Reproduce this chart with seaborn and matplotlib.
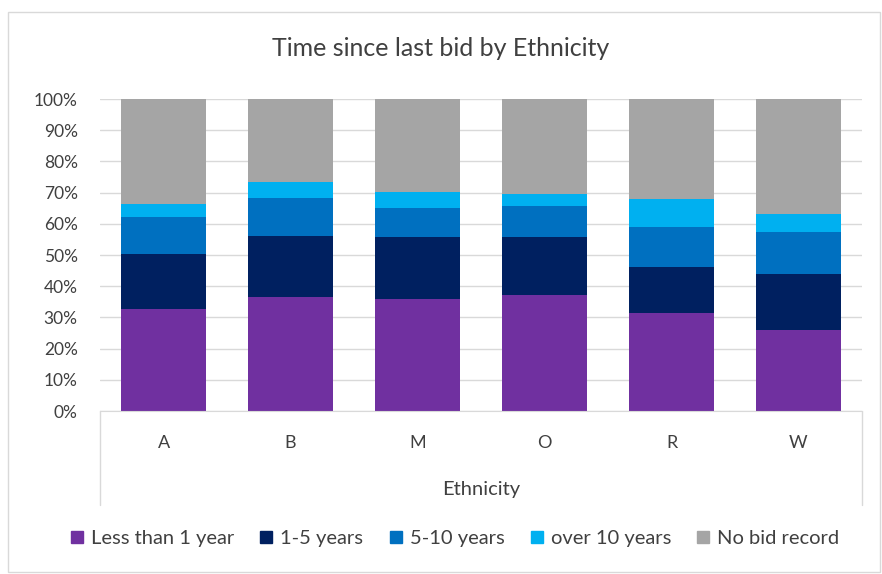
import matplotlib
matplotlib.use("Agg")
import matplotlib.pyplot as plt
from matplotlib.lines import Line2D
from matplotlib.patches import Rectangle
import numpy as np
import pandas as pd
import seaborn as sns

categories = ["A", "B", "M", "O", "R", "W"]
series_names = ["Less than 1 year", "1-5 years", "5-10 years", "over 10 years", "No bid record"]
less_than_1 = [32.6, 36.4, 35.8, 37.1, 31.4, 26.0]
one_to_five = [17.8, 19.8, 19.9, 18.6, 14.6, 17.9]
five_to_ten = [11.7, 12.1, 9.4, 10.1, 12.9, 13.6]
over_ten = [4.4, 5.2, 5.2, 3.9, 8.9, 5.7]
no_bid = [33.5, 26.5, 29.7, 30.3, 32.2, 36.8]
colors = ["#7030A0", "#002060", "#0070C0", "#00B0F0", "#A5A5A5"]
yticks = [0, 10, 20, 30, 40, 50, 60, 70, 80, 90, 100]

sns.set_style("white")
plt.rcParams["font.family"] = ["Lato", "DejaVu Sans"]

values = [less_than_1, one_to_five, five_to_ten, over_ten, no_bid]
data = np.array(values)
totals = data.sum(axis=0)
pct = data / totals * 100
cum = np.cumsum(pct, axis=0)

fig = plt.figure(figsize=(8.82, 5.74), dpi=100)
ax = fig.add_axes([100/882, 1-411/574, (862-100)/882, (411-99)/574])

for i in range(len(series_names) - 1, -1, -1):
    df = pd.DataFrame({"Ethnicity": categories, "value": cum[i]})
    sns.barplot(data=df, x="Ethnicity", y="value", color=colors[i], width=0.67,
                saturation=1, ax=ax, zorder=2, linewidth=0)

ax.set_ylim(0, 100)
ax.set_xlim(-0.5, 5.5)
ax.set_yticks(yticks)
ax.set_yticklabels([f"{t}%" for t in yticks], fontsize=12.5, color="#404040")
ax.set_xticklabels(categories, fontsize=13, color="#404040")
ax.tick_params(axis="x", length=0, pad=17)
ax.tick_params(axis="y", length=0, pad=16)
ax.yaxis.grid(True, color="#D9D9D9", linewidth=1, zorder=0)
ax.set_axisbelow(True)
for s in ["top", "right", "left"]:
    ax.spines[s].set_visible(False)
ax.spines["bottom"].set_color("#D9D9D9")
ax.set_ylabel("")
ax.set_xlabel("Ethnicity", fontsize=14.5, color="#404040", labelpad=22)

# category axis box edges
ext = (505 - 411) / 312
for xv in (0, 1):
    ax.plot([xv, xv], [0, -ext], transform=ax.transAxes, color="#D9D9D9",
            linewidth=1, clip_on=False)

fig.suptitle("Time since last bid by Ethnicity", y=1-48/574, va="center",
             fontsize=18, color="#404040")

handles = [Line2D([0], [0], marker="s", linestyle="", markersize=9,
                  markerfacecolor=c, markeredgecolor=c) for c in colors]
fig.legend(handles, series_names, loc="center", bbox_to_anchor=(0.516, 1-538/574),
           ncol=5, frameon=False, fontsize=14.5, handlelength=0.6,
           handletextpad=0.4, columnspacing=1.3, labelcolor="#404040")

fig.patches.append(Rectangle((8/882, 2/574), 872/882, 560/574, transform=fig.transFigure,
                             fill=False, edgecolor="#D9D9D9", linewidth=1))

fig.savefig("out.png", dpi=100)
